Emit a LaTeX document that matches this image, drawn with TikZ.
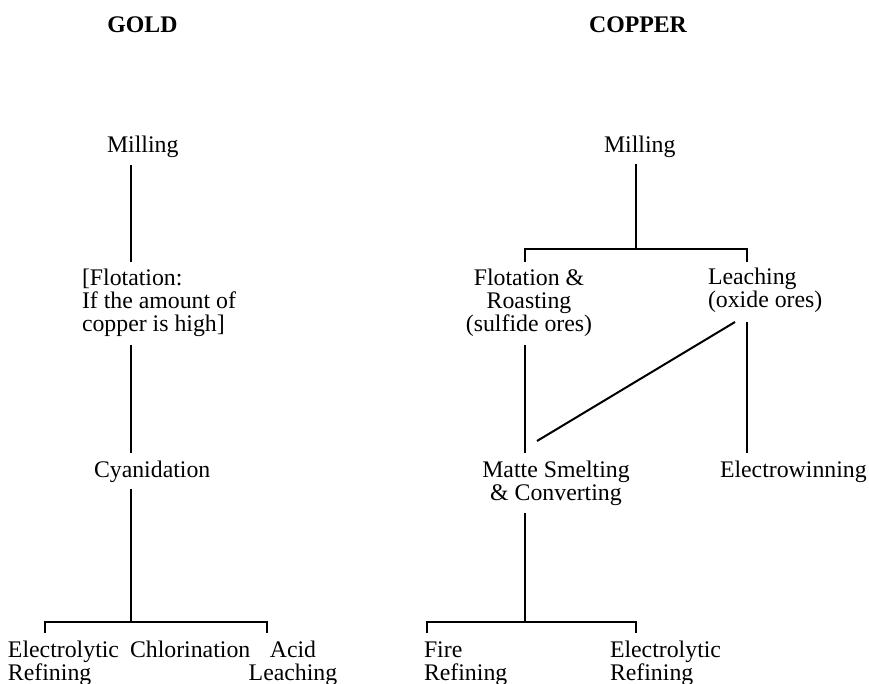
\documentclass[tikz,border=0pt]{standalone}
\usepackage{fontspec}
\setmainfont{Liberation Serif}
\newcommand\myfont{\fontsize{23.8}{23}\selectfont}
\begin{document}
\begin{tikzpicture}[x=1pt,y=-1pt,
  lbl/.style={inner sep=0pt, outer sep=0pt, font=\myfont},
  ttl/.style={inner sep=0pt, outer sep=0pt, font=\myfont\bfseries},
  conn/.style={line width=2pt}]
\useasboundingbox (0,0) rectangle (869,684);
% titles
\node[ttl, anchor=base] (tgold) at (142.5,33) {GOLD};
\node[ttl, anchor=base] (tcopper) at (638,33) {COPPER};
% gold nodes (multi-line nodes are anchored at their last baseline)
\node[lbl, anchor=base west] (gmill) at (107,153) {Milling};
\node[lbl, anchor=base west, align=left] (gflot) at (82,331) {[Flotation:\\If the amount of\\copper is high]};
\node[lbl, anchor=base west] (gcyan) at (94,477) {Cyanidation};
\node[lbl, anchor=base west, align=left] (gelec) at (8,680) {Electrolytic\\Refining};
\node[lbl, anchor=base west] (gchlor) at (130,657) {Chlorination};
\node[lbl, anchor=base, align=center] (gacid) at (293,680) {Acid\\Leaching};
% copper nodes
\node[lbl, anchor=base west] (cmill) at (604,153) {Milling};
\node[lbl, anchor=base, align=center] (cflot) at (529,331) {Flotation \&\\Roasting\\(sulfide ores)};
\node[lbl, anchor=base west, align=left] (cleach) at (708,308) {Leaching\\(oxide ores)};
\node[lbl, anchor=base, align=center] (cmatte) at (556,500) {Matte Smelting\\\& Converting};
\node[lbl, anchor=base west] (cewin) at (720,477) {Electrowinning};
\node[lbl, anchor=base west, align=left] (cfire) at (424,680) {Fire\\Refining};
\node[lbl, anchor=base west, align=left] (celec) at (610,680) {Electrolytic\\Refining};
% connector end points
\coordinate (gmillB) at (131,165);
\coordinate (gflotT) at (131,262);
\coordinate (gflotB) at (131,345);
\coordinate (gcyanT) at (131,453);
\coordinate (gcyanB) at (131,489);
\coordinate (gbarM) at (131,622);
\coordinate (gbarL) at (45,622);
\coordinate (gbarR) at (267,622);
\coordinate (gelecT) at (45,633);
\coordinate (gacidT) at (267,633);
\coordinate (cmillB) at (636,164);
\coordinate (cbarM) at (636,249);
\coordinate (cbarL) at (525,249);
\coordinate (cbarR) at (747,249);
\coordinate (cflotT) at (525,262);
\coordinate (cleachT) at (747,262);
\coordinate (cflotB) at (525,345);
\coordinate (cmatteT) at (525,453);
\coordinate (cleachBd) at (735,322);
\coordinate (cmatteTd) at (537,441);
\coordinate (cleachB) at (747,322);
\coordinate (cewinT) at (747,453);
\coordinate (cmatteB) at (525,513);
\coordinate (cbar2M) at (525,622);
\coordinate (cbar2L) at (427,622);
\coordinate (cbar2R) at (636,622);
\coordinate (cfireT) at (427,633);
\coordinate (celecT) at (636,633);
% gold connectors
\draw[conn] (gmillB) -- (gflotT);
\draw[conn] (gflotB) -- (gcyanT);
\draw[conn] (gcyanB) -- (gbarM);
\draw[conn] (gelecT) -- (gbarL) -- (gbarR) -- (gacidT);
% copper connectors
\draw[conn] (cmillB) -- (cbarM);
\draw[conn] (cflotT) -- (cbarL) -- (cbarR) -- (cleachT);
\draw[conn] (cflotB) -- (cmatteT);
\draw[conn] (cleachBd) -- (cmatteTd);
\draw[conn] (cleachB) -- (cewinT);
\draw[conn] (cmatteB) -- (cbar2M);
\draw[conn] (cfireT) -- (cbar2L) -- (cbar2R) -- (celecT);
\end{tikzpicture}
\end{document}
